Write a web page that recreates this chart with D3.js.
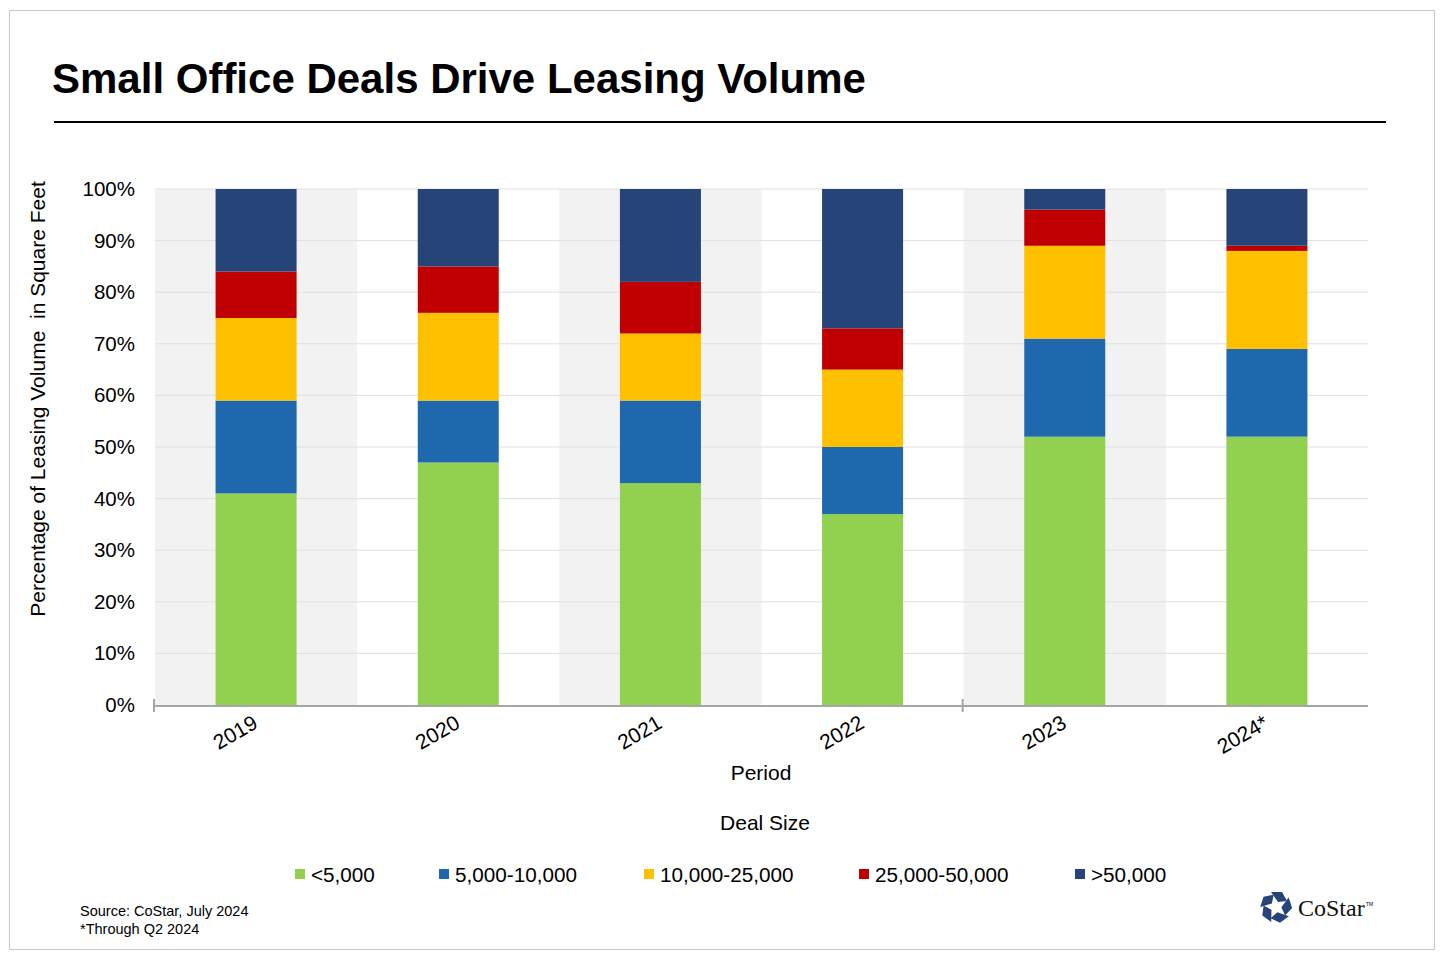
<!DOCTYPE html>
<html>
<head>
<meta charset="utf-8">
<script src="https://cdn.jsdelivr.net/npm/d3@7"></script>
<style>
  body { margin: 0; background: #fff; }
  text { font-family: "Liberation Sans", Arial, sans-serif; }
</style>
</head>
<body>
<script>
// data
var periods = ["2019", "2020", "2021", "2022", "2023", "2024*"];
var dealSizes = ["<5,000", "5,000-10,000", "10,000-25,000", "25,000-50,000", ">50,000"];
var under5k   = [41, 47, 43, 37, 52, 52];
var from5to10 = [18, 12, 16, 13, 19, 17];
var from10to25 = [16, 17, 13, 15, 18, 19];
var from25to50 = [9, 9, 10, 8, 7, 1];
var over50k   = [16, 15, 18, 27, 4, 11];
var yTicks = [0, 10, 20, 30, 40, 50, 60, 70, 80, 90, 100];
var colors = ["#92D050", "#2068AE", "#FFC000", "#C00000", "#264478"];

var W = 1440, H = 960;
var svg = d3.select("body").append("svg")
    .attr("width", W)
    .attr("height", H);

// outer frame
svg.append("rect")
    .attr("x", 9.5).attr("y", 10.5)
    .attr("width", 1425).attr("height", 939)
    .attr("fill", "#fff").attr("stroke", "#c8c8c8");

svg.append("text")
    .attr("x", 52).attr("y", 93)
    .attr("font-size", 42).attr("font-weight", "bold")
    .attr("fill", "#000")
    .text("Small Office Deals Drive Leasing Volume");

svg.append("line")
    .attr("x1", 54).attr("x2", 1386)
    .attr("y1", 122).attr("y2", 122)
    .attr("stroke", "#000").attr("stroke-width", 2);

var plotLeft = 155, plotRight = 1368, plotTop = 189, plotBottom = 705;

var x = d3.scaleBand().domain(periods).range([plotLeft, plotRight]).paddingInner(0).paddingOuter(0);
var y = d3.scaleLinear().domain([0, 100]).range([plotBottom, plotTop]);

// alternating background bands
svg.append("g").selectAll("rect")
    .data(periods.filter(function (d, i) { return i % 2 === 0; }))
    .enter().append("rect")
    .attr("x", function (d) { return x(d); })
    .attr("y", y(100))
    .attr("width", x.bandwidth())
    .attr("height", y(0) - y(100))
    .attr("fill", "#f2f2f2");

// gridlines
svg.append("g").selectAll("line")
    .data(yTicks.slice(1))
    .enter().append("line")
    .attr("x1", plotLeft).attr("x2", plotRight)
    .attr("y1", function (d) { return y(d); })
    .attr("y2", function (d) { return y(d); })
    .attr("stroke", "#e0e0e0").attr("stroke-width", 1);

// stacked bars
var rows = periods.map(function (p, i) {
    return { period: p, a: under5k[i], b: from5to10[i], c: from10to25[i], d: from25to50[i], e: over50k[i] };
});
var stack = d3.stack().keys(["a", "b", "c", "d", "e"]);
var series = stack(rows);
var barW = 81;

svg.append("g").selectAll("g")
    .data(series)
    .enter().append("g")
    .attr("fill", function (d, i) { return colors[i]; })
    .selectAll("rect")
    .data(function (d) { return d; })
    .enter().append("rect")
    .attr("x", function (d) { return x(d.data.period) + x.bandwidth() / 2 - barW / 2; })
    .attr("y", function (d) { return y(d[1]); })
    .attr("width", barW)
    .attr("height", function (d) { return y(d[0]) - y(d[1]); });

// y axis labels
var yAxis = svg.append("g")
    .attr("transform", "translate(" + (plotLeft - 17) + ",0)")
    .call(d3.axisLeft(y).tickValues(yTicks).tickSize(0).tickFormat(function (d) { return d + "%"; }));
yAxis.select(".domain").remove();
yAxis.selectAll("text")
    .attr("font-size", 20.5).attr("fill", "#000");

// x axis line with ticks at the band edges
svg.append("line")
    .attr("x1", plotLeft - 1).attr("x2", plotRight)
    .attr("y1", plotBottom + 1).attr("y2", plotBottom + 1)
    .attr("stroke", "#a6a6a6").attr("stroke-width", 2);
svg.append("g").selectAll("line")
    .data([periods[0], periods[4]])
    .enter().append("line")
    .attr("x1", function (d) { return x(d) - 1; })
    .attr("x2", function (d) { return x(d) - 1; })
    .attr("y1", plotBottom - 6).attr("y2", plotBottom + 7)
    .attr("stroke", "#a6a6a6").attr("stroke-width", 2);

svg.append("g").selectAll("text")
    .data(periods)
    .enter().append("text")
    .attr("transform", function (d) {
        return "translate(" + (x(d) + x.bandwidth() / 2 + 3) + "," + 727 + ") rotate(-30)";
    })
    .attr("text-anchor", "end")
    .attr("font-size", 21)
    .attr("fill", "#000")
    .text(function (d) { return d; });

svg.append("text")
    .attr("x", 761).attr("y", 780)
    .attr("text-anchor", "middle").attr("font-size", 21)
    .text("Period");

svg.append("text")
    .attr("transform", "translate(45," + 399 + ") rotate(-90)")
    .attr("text-anchor", "middle").attr("font-size", 21)
    .text("Percentage of Leasing Volume  in Square Feet")
    .style("white-space", "pre");

svg.append("text")
    .attr("x", 765).attr("y", 830)
    .attr("text-anchor", "middle").attr("font-size", 21)
    .text("Deal Size");

// legend
var legendX = [295, 439, 644, 859, 1075];
var legend = svg.append("g").selectAll("g")
    .data(dealSizes)
    .enter().append("g")
    .attr("transform", function (d, i) { return "translate(" + legendX[i] + ",874)"; });
legend.append("rect")
    .attr("x", 0).attr("y", -5)
    .attr("width", 10).attr("height", 10)
    .attr("fill", function (d, i) { return colors[i]; });
legend.append("text")
    .attr("x", 16).attr("y", 8)
    .attr("font-size", 20.7)
    .text(function (d) { return d; });

svg.append("text")
    .attr("x", 80).attr("y", 916)
    .attr("font-size", 14.5)
    .text("Source: CoStar, July 2024");
svg.append("text")
    .attr("x", 80).attr("y", 934)
    .attr("font-size", 14.5)
    .text("*Through Q2 2024");

// CoStar logo
var logo = svg.append("g").attr("transform", "translate(1276,907)");
d3.range(5).forEach(function (k) {
    logo.append("path")
        .attr("d", "M-5,-15 L6,-15 L11,-6 L2,-5 Z")
        .attr("fill", "#264478")
        .attr("transform", "rotate(" + (k * 72) + ")");
});
svg.append("text")
    .attr("x", 1298).attr("y", 916)
    .style("font-family", "'Liberation Serif', 'Times New Roman', serif")
    .attr("font-size", 24)
    .attr("fill", "#111")
    .text("CoStar");
svg.append("text")
    .attr("x", 1366).attr("y", 906)
    .attr("font-size", 5)
    .text("TM");
</script>
</body>
</html>
